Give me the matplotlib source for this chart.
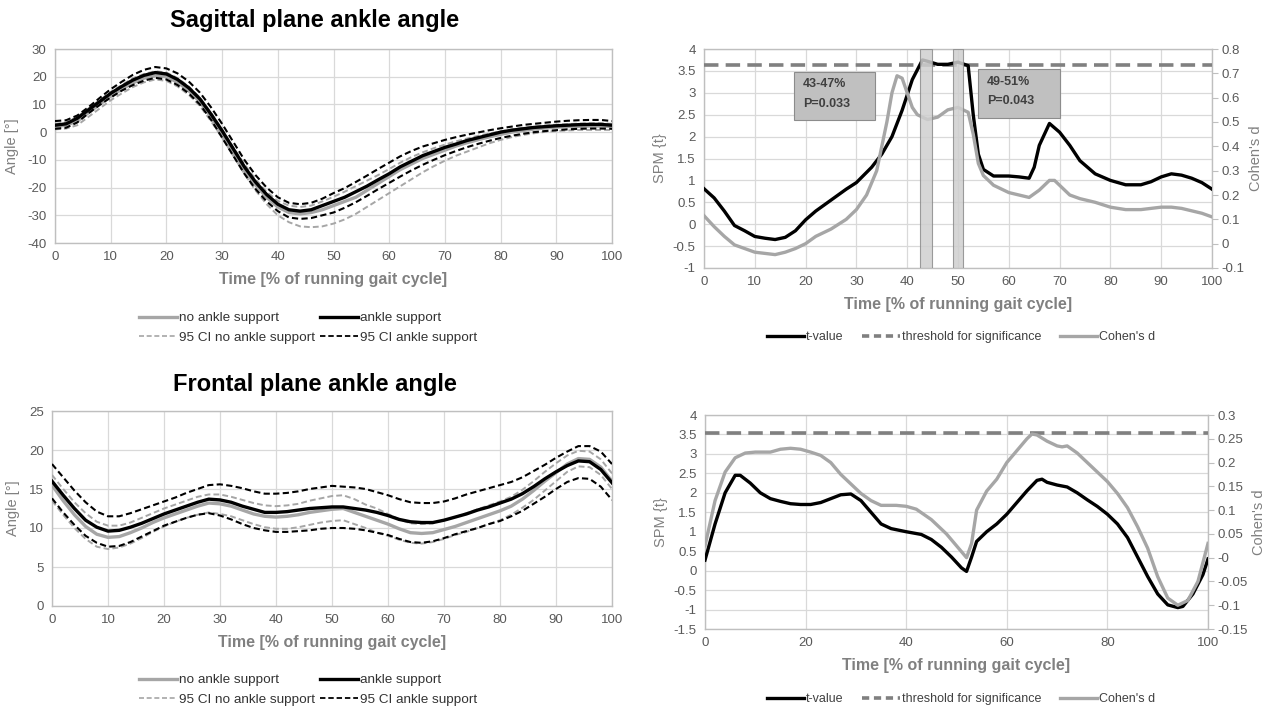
import matplotlib
matplotlib.use("Agg")
import matplotlib.pyplot as plt
from matplotlib.patches import Rectangle
from matplotlib.lines import Line2D

NARROW = ['Liberation Sans Narrow', 'Liberation Sans', 'DejaVu Sans']
ARIAL = ['Liberation Sans', 'DejaVu Sans']

# ---------------- DATA ----------------
x2 = list(range(0, 101, 2))

sag_ankle = [2.5, 3, 5, 8, 11, 14, 16.5, 18.8, 20.5, 21.5, 21, 19, 16, 12, 6.5, 0.5, -6, -12.5, -18, -22.5,
             -26, -28, -28.5, -28, -26.5, -25, -23.5, -21.5, -19.5, -17.2, -15, -12.5, -10.5, -8.5, -7, -5.5,
             -4.3, -3, -2, -1, 0, 0.7, 1.2, 1.7, 2, 2.3, 2.5, 2.7, 2.8, 2.8, 2.5]
sag_noankle = [2, 2.5, 4, 7, 10, 13, 15.5, 17.8, 19.5, 20.3, 20, 18, 15, 11, 5.5, -0.5, -7, -13.5, -19, -23.5,
               -27, -29, -29.5, -29, -28, -26.5, -25, -23.5, -21, -18.5, -16, -13.5, -11.5, -9.5, -8, -6.5,
               -5, -3.8, -2.7, -1.7, -0.8, 0, 0.6, 1.1, 1.5, 1.8, 2, 2.1, 2.2, 2.2, 2]
sag_noankle_hi = [3, 3.5, 5.5, 8.5, 11.5, 14.5, 17, 19.5, 21, 22, 21.5, 19.5, 16.5, 12.5, 7, 1, -5.5, -11.5, -17,
                  -21.5, -24.8, -26.5, -27, -26.5, -25, -23.3, -21.5, -19.5, -17.5, -15.5, -13.3, -11, -9, -7.3,
                  -5.8, -4.5, -3.3, -2.3, -1.3, -0.5, 0.3, 1, 1.6, 2, 2.4, 2.7, 2.9, 3.1, 3.2, 3.2, 3]
sag_noankle_lo = [1, 1.3, 2.5, 5.5, 8.5, 11.5, 14, 16.3, 18, 19, 18.5, 16.5, 13.5, 9.5, 4, -2, -8.5, -15, -21, -26,
                  -30, -32.5, -34, -34.3, -34, -33, -31.5, -29.5, -27, -24.5, -22, -19.5, -17, -14.5, -12.3,
                  -10.3, -8.5, -7, -5.5, -4, -2.8, -1.8, -1, -0.4, 0.1, 0.4, 0.6, 0.8, 0.8, 0.8, 0.8]
sag_ankle_hi = [4, 4.3, 6, 9, 12.3, 15.5, 18.2, 20.7, 22.5, 23.5, 23, 21.2, 18.3, 14.3, 9, 3, -3.5, -10, -15.5, -20,
                -23.5, -25.5, -26, -25.5, -24, -22, -20.2, -18, -15.7, -13.3, -11, -8.7, -6.8, -5.2, -4, -2.8,
                -1.8, -0.9, -0.1, 0.7, 1.4, 2, 2.6, 3, 3.4, 3.8, 4.1, 4.3, 4.4, 4.4, 4]
sag_ankle_lo = [1.2, 1.6, 3.5, 6.8, 9.8, 12.5, 15, 17, 18.6, 19.6, 19, 17, 14, 10, 4.5, -2, -8.5, -15, -20.5, -25,
                -28.5, -30.8, -31.3, -31, -30, -29, -27.3, -25.3, -23, -20.6, -18.3, -16, -13.8, -11.8, -10,
                -8.3, -6.8, -5.4, -4.2, -3.1, -2.1, -1.3, -0.6, 0, 0.4, 0.7, 1, 1.2, 1.3, 1.3, 1.2]

fro_ankle = [16, 14.2, 12.5, 11, 10.1, 9.6, 9.7, 10.1, 10.6, 11.2, 11.8, 12.3, 12.8, 13.3, 13.7, 13.6, 13.3, 12.8,
             12.4, 12.0, 12.0, 12.1, 12.3, 12.5, 12.6, 12.7, 12.7, 12.5, 12.3, 12.0, 11.6, 11.1, 10.8, 10.7, 10.7,
             11.0, 11.4, 11.8, 12.3, 12.7, 13.2, 13.7, 14.4, 15.3, 16.3, 17.2, 18.0, 18.6, 18.5, 17.5, 15.8]
fro_noankle = [15.5, 13.5, 11.7, 10.2, 9.2, 8.8, 8.9, 9.4, 10.0, 10.7, 11.3, 11.8, 12.3, 12.8, 13.2, 13.1, 12.8,
               12.3, 11.8, 11.5, 11.4, 11.5, 11.7, 12.0, 12.2, 12.4, 12.5, 12.0, 11.5, 11.0, 10.5, 9.9, 9.4, 9.3,
               9.4, 9.8, 10.2, 10.7, 11.2, 11.7, 12.2, 12.8, 13.7, 14.8, 16.0, 17.1, 18.2, 18.9, 18.8, 17.8, 16.0]
fro_noankle_hi = [16.8, 15, 13.3, 11.9, 10.8, 10.3, 10.3, 10.7, 11.3, 11.9, 12.5, 13.0, 13.5, 14.0, 14.3, 14.3,
                  14.0, 13.6, 13.2, 12.9, 12.8, 12.9, 13.1, 13.5, 13.8, 14.1, 14.2, 13.7, 13.0, 12.5, 11.8, 11.1,
                  10.6, 10.5, 10.6, 11.0, 11.4, 11.9, 12.4, 12.9, 13.4, 14.0, 14.9, 16.0, 17.2, 18.3, 19.3, 19.9,
                  19.8, 18.8, 17.0]
fro_noankle_lo = [13.5, 11.7, 10.0, 8.6, 7.6, 7.3, 7.5, 8.0, 8.7, 9.5, 10.2, 10.8, 11.3, 11.7, 12.0, 11.8, 11.5,
                  11.0, 10.5, 10.1, 9.9, 9.9, 10.1, 10.4, 10.7, 10.9, 11.0, 10.5, 10.0, 9.4, 9.0, 8.5, 8.1, 8.0,
                  8.2, 8.6, 9.1, 9.5, 10.0, 10.5, 11.0, 11.7, 12.6, 13.6, 14.8, 16.0, 17.2, 17.9, 17.8, 16.8, 15.0]
fro_ankle_hi = [18.2, 16.5, 14.8, 13.3, 12.1, 11.5, 11.5, 11.9, 12.4, 12.9, 13.4, 13.9, 14.5, 15.0, 15.5, 15.6,
                15.4, 15.1, 14.7, 14.4, 14.4, 14.5, 14.7, 15.0, 15.2, 15.4, 15.3, 15.2, 15.0, 14.6, 14.2, 13.7,
                13.3, 13.2, 13.2, 13.4, 13.8, 14.3, 14.7, 15.1, 15.5, 15.9, 16.5, 17.3, 18.1, 19.0, 19.8, 20.5,
                20.5, 19.8, 18.2]
fro_ankle_lo = [13.8, 12.0, 10.4, 9.0, 8.1, 7.6, 7.7, 8.2, 8.9, 9.6, 10.3, 10.8, 11.3, 11.7, 11.9, 11.6, 11.1,
                10.5, 10.0, 9.7, 9.5, 9.5, 9.6, 9.7, 9.9, 10.0, 10.0, 9.9, 9.7, 9.4, 9.1, 8.6, 8.2, 8.1, 8.3, 8.7,
                9.2, 9.6, 10.0, 10.5, 10.9, 11.5, 12.2, 13.1, 14.0, 15.0, 15.9, 16.4, 16.3, 15.3, 13.6]

# Sagittal SPM
sag_tx = [0, 2, 4, 6, 8, 10, 12, 14, 16, 18, 20, 22, 25, 28, 30, 33, 35, 37, 39, 41, 43, 44, 46, 48, 50, 52, 53,
          54, 55, 57, 60, 62, 64, 65, 66, 68, 70, 72, 74, 77, 80, 83, 86, 88, 90, 92, 94, 96, 98, 100]
sag_t = [0.81, 0.6, 0.3, -0.03, -0.15, -0.28, -0.32, -0.35, -0.3, -0.15, 0.1, 0.3, 0.55, 0.8, 0.95, 1.3, 1.6, 2.0,
         2.6, 3.3, 3.75, 3.72, 3.65, 3.65, 3.7, 3.62, 2.5, 1.6, 1.25, 1.1, 1.1, 1.08, 1.05, 1.3, 1.8, 2.3, 2.1, 1.8,
         1.45, 1.15, 1.0, 0.9, 0.9, 0.97, 1.08, 1.15, 1.12, 1.05, 0.95, 0.8]
sag_dx = [0, 2, 4, 6, 8, 10, 12, 14, 16, 18, 20, 22, 25, 28, 30, 32, 34, 36, 37, 38, 39, 40, 41, 42, 44, 46, 48,
          50, 52, 53, 54, 55, 57, 60, 62, 64, 66, 68, 69, 70, 72, 74, 77, 80, 83, 86, 88, 90, 92, 94, 96, 98, 100]
sag_d = [0.115, 0.07, 0.03, -0.005, -0.02, -0.035, -0.04, -0.045, -0.035, -0.02, 0.0, 0.03, 0.06, 0.1, 0.14, 0.2,
         0.3, 0.5, 0.62, 0.69, 0.68, 0.62, 0.56, 0.53, 0.51, 0.52, 0.55, 0.56, 0.54, 0.45, 0.33, 0.28, 0.24, 0.21,
         0.20, 0.19, 0.22, 0.26, 0.26, 0.24, 0.2, 0.185, 0.17, 0.15, 0.14, 0.14, 0.145, 0.15, 0.15, 0.145, 0.135,
         0.125, 0.11]
sag_threshold = 3.64
sag_clusters = [(42.5, 44.9), (49.1, 50.9)]
sag_labels = ["43-47%\nP=0.033", "49-51%\nP=0.043"]

# Frontal SPM
fro_tx = [0, 2, 4, 6, 7, 9, 11, 13, 15, 17, 19, 21, 23, 25, 27, 29, 31, 33, 35, 37, 40, 43, 45, 47, 49, 51, 52,
          53, 54, 56, 58, 60, 62, 64, 66, 67, 68, 70, 72, 74, 76, 78, 80, 82, 84, 86, 88, 90, 92, 94, 95, 97, 99, 100]
fro_t = [0.27, 1.2, 2.0, 2.45, 2.45, 2.25, 2.0, 1.85, 1.78, 1.72, 1.70, 1.70, 1.75, 1.85, 1.95, 1.97, 1.8, 1.5, 1.2,
         1.08, 1.0, 0.93, 0.8, 0.6, 0.35, 0.07, -0.02, 0.35, 0.75, 1.0, 1.2, 1.45, 1.75, 2.05, 2.32, 2.35, 2.27, 2.2,
         2.15, 2.0, 1.82, 1.65, 1.45, 1.2, 0.85, 0.35, -0.15, -0.6, -0.88, -0.95, -0.92, -0.6, -0.1, 0.3]
fro_dx = [0, 2, 4, 6, 8, 10, 13, 15, 17, 19, 21, 23, 25, 27, 29, 31, 33, 35, 38, 40, 42, 45, 48, 50, 52, 53, 54,
          56, 58, 60, 62, 64, 65, 66, 68, 70, 71, 72, 74, 76, 78, 80, 82, 84, 86, 88, 90, 92, 94, 96, 98, 100]
fro_d = [0.025, 0.12, 0.18, 0.21, 0.22, 0.222, 0.222, 0.228, 0.23, 0.228, 0.222, 0.215, 0.2, 0.175, 0.155, 0.135,
         0.12, 0.11, 0.11, 0.108, 0.102, 0.08, 0.05, 0.025, 0.0, 0.03, 0.1, 0.14, 0.165, 0.2, 0.225, 0.25, 0.26,
         0.258, 0.245, 0.235, 0.233, 0.235, 0.22, 0.2, 0.18, 0.16, 0.135, 0.105, 0.065, 0.02, -0.04, -0.085, -0.1,
         -0.09, -0.05, 0.03]
fro_threshold = 3.55

# ---------------- STYLE ----------------
GRID = '#d9d9d9'
SPINE = '#bfbfbf'
TICK = '#595959'
LABEL = '#808080'
GRAYLINE = '#a6a6a6'

fig = plt.figure(figsize=(12.74, 7.11), dpi=100)
W, H = 1274, 711


def axes_px(x0, y0, x1, y1):
    return fig.add_axes([x0 / W, 1 - y1 / H, (x1 - x0) / W, (y1 - y0) / H])


def style(ax, xticks, yticks, xlim, ylim):
    ax.set_xlim(*xlim)
    ax.set_ylim(*ylim)
    ax.set_xticks(xticks)
    ax.set_yticks(yticks)
    ax.grid(True, color=GRID, linewidth=0.9)
    ax.set_axisbelow(True)
    for s in ax.spines.values():
        s.set_color(SPINE)
        s.set_linewidth(1.0)
    ax.tick_params(length=0, pad=6, labelsize=9.5, labelcolor=TICK)
    for lab in ax.get_xticklabels() + ax.get_yticklabels():
        lab.set_family(NARROW)


def fmt(v):
    return '%g' % v


def angle_chart(ax, x, mean_no, mean_yes, no_hi, no_lo, yes_hi, yes_lo, yticks, ylim):
    ax.plot(x, mean_no, color=GRAYLINE, lw=2.4, zorder=3)
    ax.plot(x, no_hi, color=GRAYLINE, lw=1.4, ls=(0, (3, 1.6)), zorder=3)
    ax.plot(x, no_lo, color=GRAYLINE, lw=1.4, ls=(0, (3, 1.6)), zorder=3)
    ax.plot(x, yes_hi, color='black', lw=1.5, ls=(0, (3, 1.6)), zorder=4)
    ax.plot(x, yes_lo, color='black', lw=1.5, ls=(0, (3, 1.6)), zorder=4)
    ax.plot(x, mean_yes, color='black', lw=2.4, zorder=5)
    style(ax, list(range(0, 101, 10)), yticks, (0, 100), ylim)
    ax.set_yticklabels([fmt(v) for v in yticks], family=NARROW)
    ax.set_xlabel('Time [% of running gait cycle]', fontsize=11.5, fontweight='bold', color=LABEL,
                  family=NARROW, labelpad=6)
    ax.set_ylabel('Angle [°]', fontsize=10.5, color=LABEL, family=ARIAL, labelpad=6)


def angle_legend(cy):
    h = [Line2D([], [], color=GRAYLINE, lw=2.4),
         Line2D([], [], color=GRAYLINE, lw=1.2, ls=(0, (3, 1.6))),
         Line2D([], [], color='black', lw=2.4),
         Line2D([], [], color='black', lw=1.3, ls=(0, (3, 1.6)))]
    labels = ['no ankle support', '95 CI no ankle support', 'ankle support', '95 CI ankle support']
    fig.legend(h, labels, loc='center', bbox_to_anchor=(308 / W, 1 - cy / H), ncol=2, frameon=False,
               prop={'family': NARROW, 'size': 9.7}, labelcolor='#333333', handlelength=2.8,
               handletextpad=0.15, columnspacing=0.4, labelspacing=0.55, borderpad=0)


def spm_chart(ax, tx, t, dx, d, thr, yticks, ylim, d_ticks, d_lim, xticks):
    ax.plot(tx, t, color='black', lw=2.4, zorder=4)
    ax.axhline(thr, color='#808080', lw=2.6, ls=(0, (4, 2)), zorder=3)
    style(ax, xticks, yticks, (0, 100), ylim)
    ax.set_yticklabels([fmt(v) for v in yticks], family=NARROW)
    ax.set_xlabel('Time [% of running gait cycle]', fontsize=11.5, fontweight='bold', color=LABEL,
                  family=NARROW, labelpad=6)
    ax.set_ylabel('SPM {t}', fontsize=10.5, color=LABEL, family=ARIAL, labelpad=4)
    ax2 = ax.twinx()
    ax2.plot(dx, d, color=GRAYLINE, lw=2.4, zorder=3)
    ax2.set_ylim(*d_lim)
    ax2.set_yticks(d_ticks)
    ax2.set_yticklabels([fmt(round(v, 2)) for v in d_ticks], family=NARROW)
    ax2.tick_params(length=4, color=SPINE, pad=3, labelsize=9.5, labelcolor=TICK)
    for s in ax2.spines.values():
        s.set_visible(False)
    ax2.set_ylabel("Cohen's d", fontsize=10.5, color=LABEL, family=ARIAL, labelpad=3)
    return ax2


def spm_legend(cy):
    h = [Line2D([], [], color='black', lw=2.4),
         Line2D([], [], color='#808080', lw=2.6, ls=(0, (2, 1.3))),
         Line2D([], [], color=GRAYLINE, lw=2.4)]
    labels = ['t-value', 'threshold for significance', "Cohen's d"]
    fig.legend(h, labels, loc='center', bbox_to_anchor=(961 / W, 1 - cy / H), ncol=3, frameon=False,
               prop={'family': NARROW, 'size': 9}, labelcolor='#404040', handlelength=3.0,
               handletextpad=0.15, columnspacing=1.5, borderpad=0)


# ---------- Sagittal angle ----------
ax1 = axes_px(55, 49, 612, 243)
angle_chart(ax1, x2, sag_noankle, sag_ankle, sag_noankle_hi, sag_noankle_lo, sag_ankle_hi, sag_ankle_lo,
            list(range(-40, 31, 10)), (-40, 30))
fig.text(315 / W, 1 - 20 / H, 'Sagittal plane ankle angle', ha='center', va='center', fontsize=17,
         fontweight='bold', family=ARIAL)
angle_legend(328)

# ---------- Sagittal SPM ----------
ax3 = axes_px(704, 49, 1212, 268)
ax3b = spm_chart(ax3, sag_tx, sag_t, sag_dx, sag_d, sag_threshold, [4 - 0.5 * i for i in range(11)], (-1, 4),
                 [round(0.8 - 0.1 * i, 1) for i in range(10)], (-0.1, 0.8), list(range(0, 101, 10)))
for (c0, c1) in sag_clusters:
    ax3b.axvspan(c0, c1, facecolor='#cfcfcf', edgecolor='#8c8c8c', lw=0.8, alpha=0.85, zorder=6)
box_x = [(17.8, 33.7), (54.0, 70.0)]
box_y = [(2.38, 3.48), (2.42, 3.54)]
for (bx, by, lab) in zip(box_x, box_y, sag_labels):
    ax3.add_patch(Rectangle((bx[0], by[0]), bx[1] - bx[0], by[1] - by[0], facecolor='#c0c0c0',
                            edgecolor='#8c8c8c', lw=0.8, zorder=5))
    ax3.text(bx[0] + 1.7, by[1] - 0.15, lab, ha='left', va='top', fontsize=9, fontweight='bold',
             color='#404040', family=NARROW, linespacing=1.8, zorder=6)
spm_legend(337)

# ---------- Frontal angle ----------
ax2 = axes_px(52, 411, 612, 606)
angle_chart(ax2, x2, fro_noankle, fro_ankle, fro_noankle_hi, fro_noankle_lo, fro_ankle_hi, fro_ankle_lo,
            list(range(0, 26, 5)), (0, 25))
fig.text(315 / W, 1 - 385 / H, 'Frontal plane ankle angle', ha='center', va='center', fontsize=17,
         fontweight='bold', family=ARIAL)
angle_legend(690)

# ---------- Frontal SPM ----------
ax4 = axes_px(705, 415, 1208, 629)
ax4b = spm_chart(ax4, fro_tx, fro_t, fro_dx, fro_d, fro_threshold, [4 - 0.5 * i for i in range(12)], (-1.5, 4),
                 [round(0.3 - 0.05 * i, 2) for i in range(10)], (-0.15, 0.3), list(range(0, 101, 20)))
spm_legend(699)

fig.savefig('out.png', dpi=100, facecolor='white')
